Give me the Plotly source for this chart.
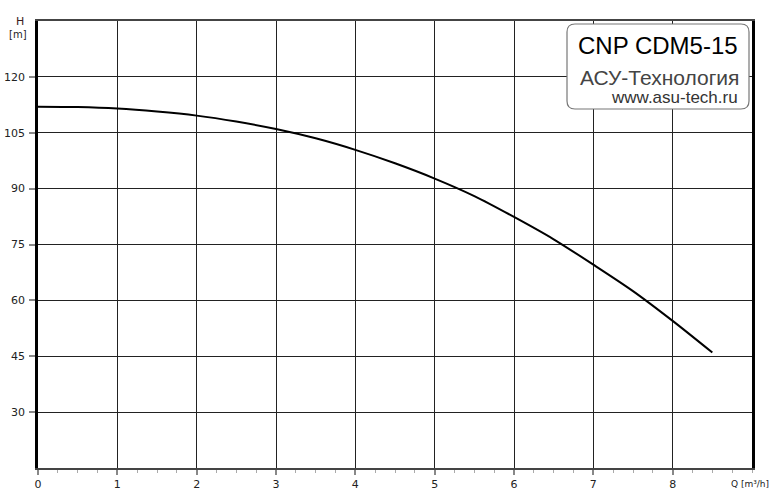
import plotly.graph_objects as go

# Pump curve data
flow_q = [0, 0.5, 1, 1.5, 2, 2.5, 3, 3.5, 4, 4.5, 5, 5.5, 6, 6.5, 7, 7.5, 8, 8.5]
head_h = [112, 111.9, 111.5, 110.7, 109.6, 108.0, 106.0, 103.5, 100.4, 96.8,
          92.7, 88.0, 82.4, 76.4, 69.6, 62.5, 54.5, 46]

x_ticks = [0, 1, 2, 3, 4, 5, 6, 7, 8]
y_ticks = [30, 45, 60, 75, 90, 105, 120]
title_main = "CNP CDM5-15"
title_company = "АСУ-Технология"
title_site = "www.asu-tech.ru"

W, H = 780, 502
# plot area in page pixels: x 38..752, y 21..468
PL, PR, PT, PB = 38, 752, 21, 468
L, T = PL, PT
R, B = W - PR, H - PB
PW, PH = PR - PL, PB - PT

def px(x):
    return (x - PL) / PW

def py(y):
    return (PB - y) / PH

fig = go.Figure()
fig.add_trace(go.Scatter(x=flow_q, y=head_h, mode="lines",
                         line=dict(color="black", width=2, shape="spline", smoothing=0.8),
                         hoverinfo="skip", showlegend=False))

# rounded box
x0, x1, y0, y1, r = 567, 749, 24, 109, 8
rx, ry = r / PW, r / PH
X0, X1, Y0, Y1 = px(x0), px(x1), py(y1), py(y0)
path = (f"M {X0+rx},{Y0} L {X1-rx},{Y0} Q {X1},{Y0} {X1},{Y0+ry} "
        f"L {X1},{Y1-ry} Q {X1},{Y1} {X1-rx},{Y1} L {X0+rx},{Y1} "
        f"Q {X0},{Y1} {X0},{Y1-ry} L {X0},{Y0+ry} Q {X0},{Y0} {X0+rx},{Y0} Z")
fig.add_shape(type="path", path=path, xref="paper", yref="paper",
              fillcolor="white", line=dict(color="#777777", width=1.2), layer="above")

fig.add_annotation(text=title_main, xref="paper", yref="paper", x=px(740), y=py(46),
                   xanchor="right", yanchor="middle", showarrow=False,
                   font=dict(family="Liberation Sans", size=24, color="black"))
fig.add_annotation(text=title_company, xref="paper", yref="paper", x=px(741), y=py(77),
                   xanchor="right", yanchor="middle", showarrow=False,
                   font=dict(family="Liberation Sans", size=21, color="#444444"))
fig.add_annotation(text=title_site, xref="paper", yref="paper", x=px(740), y=py(97),
                   xanchor="right", yanchor="middle", showarrow=False,
                   font=dict(family="Liberation Sans", size=17, color="#333333"))

# axis titles
fig.add_annotation(text="H", xref="paper", yref="paper", x=px(20), y=py(21),
                   xanchor="center", yanchor="middle", showarrow=False,
                   font=dict(family="DejaVu Sans", size=11, color="#3a1a1a"))
fig.add_annotation(text="[m]", xref="paper", yref="paper", x=px(18), y=py(34),
                   xanchor="center", yanchor="middle", showarrow=False,
                   font=dict(family="DejaVu Sans", size=10, color="#222222"))
fig.add_annotation(text="Q [m³/h]", xref="paper", yref="paper", x=px(771), y=py(484),
                   xanchor="right", yanchor="middle", showarrow=False,
                   font=dict(family="DejaVu Sans", size=9, color="#222222"))

fig.update_xaxes(range=[0, 9], tickvals=x_ticks, ticktext=[str(v) for v in x_ticks],
                 showgrid=True, gridcolor="#222222", gridwidth=1,
                 showline=True, linecolor="#444444", linewidth=2, mirror=True,
                 ticks="outside", ticklen=5, tickwidth=2, tickcolor="#888888",
                 minor=dict(dtick=0.25, tick0=0, ticks="outside", ticklen=3,
                            tickwidth=1, tickcolor="#aaaaaa", showgrid=False),
                 zeroline=False, automargin=False,
                 tickfont=dict(family="DejaVu Sans", size=11, color="#222222"))
fig.update_yaxes(range=[15, 135], tickvals=y_ticks, ticktext=[str(v) for v in y_ticks],
                 showgrid=True, gridcolor="#222222", gridwidth=1,
                 showline=True, linecolor="black", linewidth=2.5, mirror=True,
                 ticks="outside", ticklen=6, tickwidth=1.5, tickcolor="#888888",
                 zeroline=False, ticklabelstandoff=2, automargin=False,
                 tickfont=dict(family="DejaVu Sans", size=11, color="#222222"))

fig.update_layout(width=W, height=H, margin=dict(l=L, r=R, t=T, b=B, autoexpand=False),
                  paper_bgcolor="white", plot_bgcolor="white", showlegend=False)

fig.write_html("out.html", config={"displayModeBar": False},
               post_script="document.body.style.margin='0px';document.body.style.padding='0px';")
